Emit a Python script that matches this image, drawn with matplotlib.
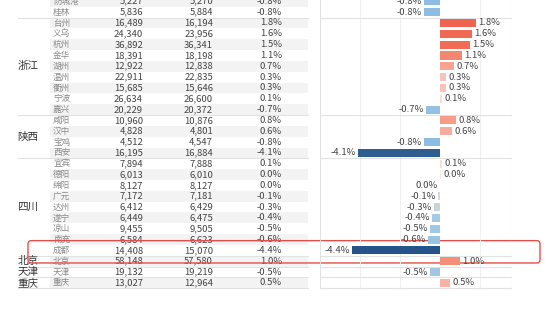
import numpy as np
import matplotlib
matplotlib.use('Agg')
import matplotlib.pyplot as plt
from matplotlib.colors import to_rgb
from matplotlib.patches import FancyBboxPatch

plt.rcParams['font.family'] = ['Noto Sans CJK SC', 'DejaVu Sans']

# table data (first row is cut off at the top of the screenshot)
cities = ['防城港', '桂林', '台州', '义乌', '杭州', '金华', '湖州', '温州', '衢州', '宁波', '嘉兴',
          '咸阳', '汉中', '宝鸡', '西安', '宜宾', '德阳', '绵阳', '广元', '达州', '遂宁', '凉山',
          '南充', '成都', '北京', '天津', '重庆']
value_now = [5227, 5836, 16489, 24340, 36892, 18391, 12922, 22911, 15685, 26634, 20229,
             10960, 4828, 4512, 16195, 7894, 6013, 8127, 7172, 6412, 6449, 9455,
             6584, 14408, 58148, 19132, 13027]
value_prev = [5270, 5884, 16194, 23956, 36341, 18198, 12838, 22835, 15646, 26600, 20372,
              10876, 4801, 4547, 16884, 7888, 6010, 8127, 7181, 6429, 6475, 9505,
              6623, 15070, 57580, 19219, 12964]
pct = [-0.8, -0.8, 1.8, 1.6, 1.5, 1.1, 0.7, 0.3, 0.3, 0.1, -0.7,
       0.8, 0.6, -0.8, -4.1, 0.1, 0.04, -0.01, -0.1, -0.3, -0.4, -0.5,
       -0.6, -4.4, 1.0, -0.5, 0.5]
# province groups: (name, first row, last row)
provinces = [('浙江', 2, 10), ('陕西', 11, 14), ('四川', 15, 23),
             ('北京', 24, 24), ('天津', 25, 25), ('重庆', 26, 26)]
group_ends = [1, 10, 14, 23, 24, 25, 26]


def bar_color(v):
    if v >= 0:
        stops = [0, 0.3, 0.8, 1.5, 1.8]
        cols = ['#fde8e4', '#f9c3ba', '#f69c88', '#f26c55', '#f0644f']
    else:
        stops = [-4.4, -0.8, -0.4, -0.3, 0]
        cols = ['#24548a', '#8dbde2', '#a6cae6', '#c9d3da', '#dcdcdc']
    rgb = np.array([to_rgb(c) for c in cols])
    return tuple(np.interp(v, stops, rgb[:, k]) for k in range(3))


n = len(cities)
rows = np.arange(n)
ylim = (28.41, -0.12)

fig = plt.figure(figsize=(5.54, 3.09), dpi=100)
W, H = 554, 309

# base axes: x in pixels, y in row units
ax = fig.add_axes([0, 0, 1, 1])
ax.set_xlim(0, W)
ax.set_ylim(*ylim)
ax.axis('off')

# row banding
even = rows[rows % 2 == 0]
ax.barh(even, 258, left=50, height=1.0, color='#f3f3f3', zorder=0)

for sep in group_ends:
    ax.plot([18, 308], [sep + 0.5, sep + 0.5], color='#e2e2e2', lw=0.8, zorder=1)

for name, r0, r1 in provinces:
    ax.text(28, (r0 + r1) / 2, name, ha='center', va='center', fontsize=7.6, color='#333333')

for i in rows:
    ax.text(53, i, cities[i], ha='left', va='center', fontsize=6.2, color='#8a8a8a')
    ax.text(143, i, f'{value_now[i]:,}', ha='right', va='center', fontsize=6.8, color='#444444')
    ax.text(213, i, f'{value_prev[i]:,}', ha='right', va='center', fontsize=6.8, color='#444444')
    p = pct[i]
    lab = f'{p:.1f}%' if round(p, 1) != 0 else '0.0%'
    ax.text(282, i, lab, ha='right', va='center', fontsize=6.8, color='#444444')

# bar chart panel
bx = fig.add_axes([320 / W, 0, (512 - 320) / W, 1])
bx.set_xlim(-6, 3.6)
bx.set_ylim(*ylim)
bx.patch.set_alpha(0)
bx.axis('off')
for g in [-4, -2, 2]:
    bx.plot([g, g], [-0.5, 26.5], color='#f0f0f0', lw=0.8, zorder=0)
for g in [-6, 3.6]:
    bx.plot([g, g], [-0.5, 26.5], color='#e2e2e2', lw=0.8, zorder=0)
for sep in group_ends:
    bx.plot([-6, 3.6], [sep + 0.5, sep + 0.5], color='#e2e2e2', lw=0.8, zorder=1)

bx.barh(rows, pct, height=0.75, color=[bar_color(v) for v in pct], zorder=2)
for i in rows:
    p = pct[i]
    lab = f'{p:.1f}%' if round(p, 1) != 0 else '0.0%'
    if p >= 0:
        bx.text(p + 0.12, i, lab, ha='left', va='center', fontsize=6.8, color='#444444')
    else:
        bx.text(p - 0.12, i, lab, ha='right', va='center', fontsize=6.8, color='#444444')

# red highlight box
box = FancyBboxPatch((28, 22.1), 512, 2.06, boxstyle='round,pad=0,rounding_size=3',
                     fill=False, edgecolor='#e0504a', lw=1.0, zorder=5,
                     mutation_aspect=1 / 10.83)
ax.add_patch(box)

fig.savefig('out.png', dpi=100)
